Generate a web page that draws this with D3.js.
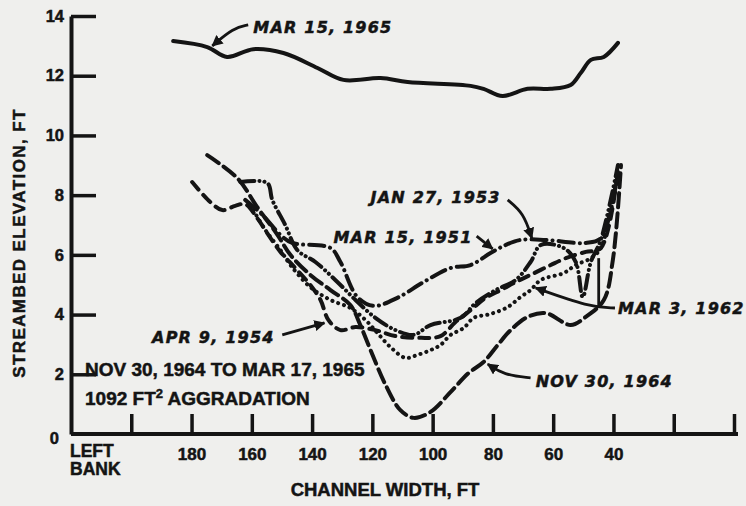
<!DOCTYPE html>
<html>
<head>
<meta charset="utf-8">
<script src="https://cdn.jsdelivr.net/npm/d3@7"></script>
<style>
  body { margin: 0; background: #efefed; }
  svg { display: block; font-family: "Liberation Sans", Arial, sans-serif; font-weight: bold; }
  svg text { stroke: #141414; stroke-width: 0.5px; }
  .note { font-family: "DejaVu Sans", sans-serif; font-style: italic; font-weight: bold; font-size: 16px; letter-spacing: 1.2px; }
</style>
</head>
<body>
<script>
const width = 746;
const height = 506;
const ink = '#141414';

// axis ticks (channel width runs from the left bank toward the right)
const xTicks = [200, 180, 160, 140, 120, 100, 80, 60, 40, 20, 0];
const xTickLabels = ['', '180', '160', '140', '120', '100', '80', '60', '40', '', ''];
const yTicks = [0, 2, 4, 6, 8, 10, 12, 14];

// cross sections: [channel width ft, streambed elevation ft]
const mar1965 = [[186.1,13.16],[174.8,12.96],[168.2,12.63],[159.5,12.89],[149.5,12.76],[138.2,12.26],[129.6,11.86],
  [117.3,11.92],[108.3,11.79],[87.4,11.66],[83.1,11.56],[76.8,11.32],[68.5,11.56],[60.8,11.56],[54.2,11.69],
  [50.8,12.1],[47.5,12.53],[43.2,12.63],[38.5,13.10]];

const jan1953 = [[163.8,8.44],[154.9,8.41],[153.2,7.84],[148.9,7.00],[144.9,6.16],[138.9,5.76],[132.3,5.16],
  [125.6,4.49],[119.0,3.89],[112.3,3.48],[106.3,3.32],[100.7,3.65],[90.7,3.89],[85.7,4.39],[79.1,4.82],
  [72.4,5.16],[67.5,5.76],[64.1,6.33],[56.5,6.23],[52.5,5.76],[50.2,4.59],[47.5,5.76],[44.2,6.50],[38.5,9.01]];

const mar1951 = [[162.2,7.84],[156.5,7.34],[150.5,6.67],[146.6,6.40],[133.9,6.23],[130.6,5.76],[125.0,4.59],
  [119.6,4.29],[111.7,4.56],[103.0,5.09],[94.0,5.56],[87.4,5.66],[80.8,6.06],[75.8,6.33],[70.8,6.50],
  [62.5,6.50],[49.2,6.40],[44.2,6.56],[38.5,8.78]];

const apr1954 = [[179.8,8.44],[173.8,7.77],[169.8,7.50],[165.5,7.64],[162.2,7.70],[158.2,7.23],[154.5,6.67],
  [150.5,6.10],[145.6,5.56],[140.6,4.99],[137.2,4.49],[134.6,3.82],[130.6,3.48],[125.6,3.58],[119.0,3.48],
  [112.3,3.28],[104.0,3.22],[97.4,3.28],[92.4,3.75],[87.4,4.15],[82.4,4.56],[77.4,4.82],[72.4,5.09],
  [67.5,5.33],[60.8,5.66],[55.8,5.89],[49.2,6.10],[44.2,6.23],[38.5,8.84]];

const mar1962 = [[160.5,7.67],[155.5,6.83],[150.5,6.16],[147.2,5.66],[140.6,4.92],[133.9,4.49],[127.3,4.22],
  [122.3,3.82],[118.3,3.38],[114.0,2.91],[109.0,2.55],[105.0,2.65],[100.7,2.81],[97.4,2.98],[94.0,3.32],
  [89.7,3.55],[86.4,3.89],[80.8,4.02],[75.1,4.25],[70.8,4.59],[67.5,4.82],[64.1,5.16],[56.5,5.39],
  [52.5,5.66],[47.5,5.89],[44.2,6.23],[38.5,8.78]];

const nov1964 = [[174.8,9.34],[164.8,8.57],[158.2,7.60],[151.5,6.67],[147.2,6.00],[140.6,5.33],[133.9,4.82],
  [127.3,4.32],[124.0,3.65],[120.6,2.81],[115.6,1.64],[110.7,0.80],[106.3,0.54],[100.7,0.74],[94.0,1.41],
  [88.1,2.04],[83.1,2.41],[78.4,2.98],[74.1,3.48],[68.5,3.92],[62.5,4.05],[54.2,3.65],[49.2,3.92],
  [43.2,4.49],[40.2,5.83],[37.5,9.01]];

const series = [
  { data: mar1965, dash: null },
  { data: nov1964, dash: '14,6' },
  { data: apr1954, dash: '10,7' },
  { data: mar1962, dash: '0.1,6' },
  { data: mar1951, dash: '15,6,0.1,6' },
  { data: jan1953, dash: '14,5,0.1,5,0.1,5' }
];

// labelled dates with their leader lines, in data units
const notes = [
  { text: 'MAR 15, 1965', at: [159.5, 13.43], leader: [[161.2,13.70],[166.2,13.60],[173.1,13.0]] },
  { text: 'JAN 27, 1953', at: [120.6, 7.74], leader: [[75.1,7.84],[69.8,7.40],[67.1,6.56]] },
  { text: 'MAR 15, 1951', at: [132.9, 6.40], leader: [[85.4,6.63],[80.1,6.20]] },
  { text: 'APR 9, 1954', at: [193.1, 3.05], leader: [[149.9,3.32],[135.9,3.72]] },
  { text: 'MAR 3, 1962', at: [38.5, 4.02], leader: [[39.5,4.22],[48.0,4.25],[65.8,4.89]] },
  { text: '', at: null, leader: [[44.9,4.22],[44.9,5.89]] },
  { text: 'NOV 30, 1964', at: [65.8, 1.57], leader: [[67.5,1.88],[76.4,1.98],[81.7,2.34]] }
];

const x = d3.scaleLinear().domain([220, 0]).range([71, 734]);
const y = d3.scaleLinear().domain([0, 14]).range([434, 16]);

const svg = d3.select('body').append('svg')
  .attr('width', width)
  .attr('height', height);

svg.append('defs').append('marker')
  .attr('id', 'head')
  .attr('viewBox', '0 0 10 10')
  .attr('refX', 9).attr('refY', 5)
  .attr('markerWidth', 4).attr('markerHeight', 4)
  .attr('markerUnits', 'strokeWidth')
  .attr('orient', 'auto')
  .append('path').attr('d', 'M0,0L10,5L0,10z').attr('fill', ink);

const xAxis = g => g
  .attr('transform', `translate(0,${y(0)})`)
  .call(d3.axisBottom(x).tickValues(xTicks).tickFormat((d, i) => xTickLabels[i])
    .tickSize(-20).tickSizeOuter(0).tickPadding(14))
  .call(g => g.select('.domain').attr('stroke', ink).attr('stroke-width', 4).attr('d', `M${x(220)},0H${x(0) + 4}`))
  .call(g => g.selectAll('.tick line').attr('stroke', ink).attr('stroke-width', 3.5))
  .call(g => g.selectAll('.tick text').attr('fill', ink).attr('font-size', 17).attr('font-family', '"Liberation Sans", Arial'));

const yAxis = g => g
  .attr('transform', `translate(${x(220)},0)`)
  .call(d3.axisLeft(y).tickValues(yTicks).tickSize(-25).tickSizeOuter(0).tickPadding(7))
  .call(g => g.select('.domain').attr('stroke', ink).attr('stroke-width', 4))
  .call(g => g.selectAll('.tick line').attr('stroke', ink).attr('stroke-width', 3.5))
  .call(g => g.selectAll('.tick').filter(d => d === 0).select('line').remove())
  .call(g => g.selectAll('.tick text').attr('fill', ink).attr('font-size', 16.5).attr('font-family', '"Liberation Sans", Arial'))
  .call(g => g.selectAll('.tick').filter(d => d === 0).select('text').attr('x', -12).attr('dy', '0.6em'));

svg.append('g').call(xAxis);
svg.append('g').call(yAxis);

const line = d3.line()
  .curve(d3.curveCatmullRom)
  .x(d => x(d[0]))
  .y(d => y(d[1]));

svg.append('g')
  .selectAll('path')
  .data(series)
  .join('path')
  .attr('fill', 'none')
  .attr('stroke', ink)
  .attr('stroke-width', 4)
  .attr('stroke-linecap', 'round')
  .attr('stroke-linejoin', 'round')
  .attr('stroke-dasharray', d => d.dash)
  .attr('d', d => line(d.data));

const leader = d3.line()
  .curve(d3.curveBasis)
  .x(d => x(d[0]))
  .y(d => y(d[1]));

svg.append('g')
  .selectAll('path')
  .data(notes)
  .join('path')
  .attr('fill', 'none')
  .attr('stroke', ink)
  .attr('stroke-width', 2.8)
  .attr('marker-end', d => d.text ? 'url(#head)' : null)
  .attr('d', d => leader(d.leader));

svg.append('g')
  .selectAll('text')
  .data(notes.filter(d => d.text))
  .join('text')
  .attr('class', 'note')
  .attr('fill', ink)
  .attr('x', d => x(d.at[0]))
  .attr('y', d => y(d.at[1]))
  .text(d => d.text);

// aggradation note and bank label
const info = svg.append('g').attr('fill', ink).attr('font-size', 19);
info.append('text').attr('x', x(220) + 14).attr('y', 376).text('NOV 30, 1964 TO MAR 17, 1965');
const agg = info.append('text').attr('x', x(220) + 14).attr('y', 405);
agg.append('tspan').text('1092 FT');
agg.append('tspan').attr('font-size', 13).attr('dy', -7).text('2');
agg.append('tspan').attr('dy', 7).text(' AGGRADATION');
const bank = info.append('text').attr('x', x(220) - 1).attr('y', 457).attr('font-size', 17.5);
bank.append('tspan').text('LEFT');
bank.append('tspan').attr('x', x(220) - 1).attr('dy', 18).text('BANK');

svg.append('text')
  .attr('fill', ink)
  .attr('font-size', 18.5)
  .attr('text-anchor', 'middle')
  .attr('x', 385).attr('y', 496)
  .text('CHANNEL WIDTH, FT');

svg.append('text')
  .attr('fill', ink)
  .attr('font-size', 17)
  .attr('letter-spacing', 1.4)
  .attr('text-anchor', 'middle')
  .attr('transform', 'translate(25,243) rotate(-90)')
  .text('STREAMBED ELEVATION, FT');
</script>
</body>
</html>
